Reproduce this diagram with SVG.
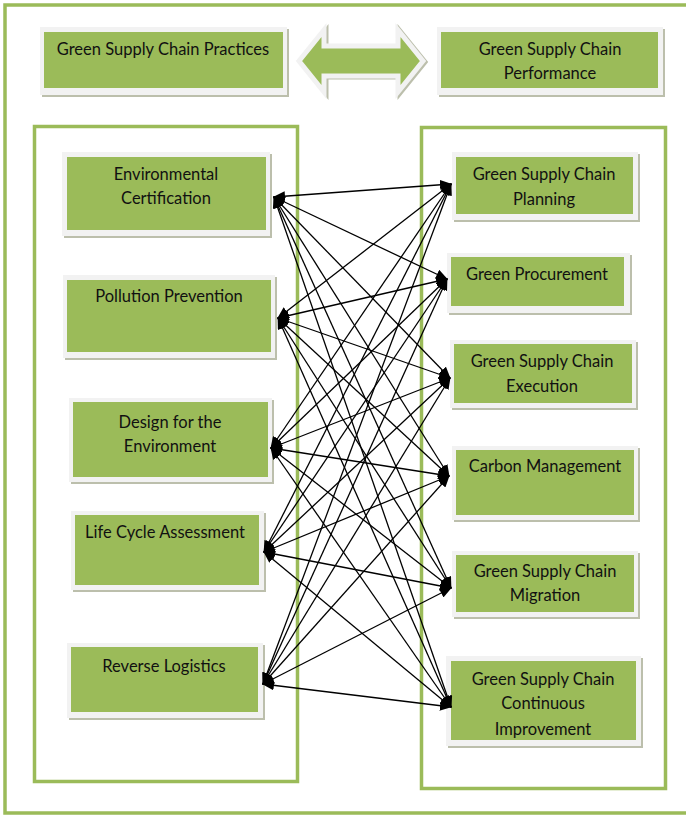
<svg xmlns="http://www.w3.org/2000/svg" width="686" height="815" viewBox="0 0 686 815">
<style>
.frame{fill:none;stroke:#9bbb59;stroke-width:3.5}
.sh{fill:#bcbfac}
.rim{fill:#f2f2f2}
.g{fill:#9bbb59}
.t{font-family:Lato,"Liberation Sans",sans-serif;font-size:16.5px;fill:#111;text-anchor:middle}
.c line{stroke:#000;stroke-width:1.3;marker-start:url(#ah);marker-end:url(#ah)}
</style>
<defs>
<marker id="ah" markerUnits="userSpaceOnUse" markerWidth="12" markerHeight="10" refX="11" refY="5" orient="auto-start-reverse">
<path d="M0,0 L12,5 L0,10 Z" fill="#000"/>
</marker>
</defs>
<rect width="686" height="815" fill="#fff"/>
<rect class="frame" x="5" y="5" width="690" height="808"/>
<rect class="frame" x="34.5" y="126.5" width="263" height="655"/>
<rect class="frame" x="421.5" y="127.5" width="244" height="661"/>

<g id="top-practices">
<rect class="sh" x="42" y="29" width="247" height="68"/>
<rect class="rim" x="40" y="27" width="247" height="68"/>
<rect class="g" x="44" y="32" width="239" height="56"/>
<text class="t" x="163" y="55">Green Supply Chain Practices</text>
</g>
<g id="top-arrow">
<path d="M301,62 L326,31 L326,47 L400,47 L400,31 L425,62 L400,93 L400,77 L326,77 L326,93 Z" fill="#bcbfac" stroke="#bcbfac" stroke-width="5" stroke-linejoin="miter"/>
<path d="M299,61 L324,30 L324,46 L398,46 L398,30 L423,61 L398,92 L398,76 L324,76 L324,92 Z" class="g" stroke="#f2f2f2" stroke-width="5" stroke-linejoin="miter"/>
</g>
<g id="top-performance">
<rect class="sh" x="439" y="29" width="226" height="68"/>
<rect class="rim" x="437" y="27" width="226" height="68"/>
<rect class="g" x="441" y="32" width="217" height="56"/>
<text class="t" x="550" y="55">Green Supply Chain</text>
<text class="t" x="550" y="79">Performance</text>
</g>

<g id="env-cert">
<rect class="sh" x="64" y="154" width="208" height="84"/>
<rect class="rim" x="62" y="152" width="208" height="84"/>
<rect class="g" x="67" y="157" width="199" height="73"/>
<text class="t" x="166" y="180">Environmental</text>
<text class="t" x="166" y="204">Certification</text>
</g>
<g id="pollution">
<rect class="sh" x="65" y="277" width="212" height="83"/>
<rect class="rim" x="63" y="275" width="212" height="83"/>
<rect class="g" x="67" y="280" width="204" height="72"/>
<text class="t" x="169" y="302">Pollution Prevention</text>
</g>
<g id="design">
<rect class="sh" x="71" y="400" width="203" height="84"/>
<rect class="rim" x="69" y="398" width="203" height="84"/>
<rect class="g" x="73" y="402" width="195" height="75"/>
<text class="t" x="170" y="428">Design for the</text>
<text class="t" x="170" y="452">Environment</text>
</g>
<g id="lca">
<rect class="sh" x="73" y="513" width="193" height="79"/>
<rect class="rim" x="71" y="511" width="193" height="79"/>
<rect class="g" x="75" y="515" width="184" height="70"/>
<text class="t" x="165" y="538">Life Cycle Assessment</text>
</g>
<g id="reverse">
<rect class="sh" x="69" y="645" width="196" height="75"/>
<rect class="rim" x="67" y="643" width="196" height="75"/>
<rect class="g" x="71" y="647" width="187" height="65"/>
<text class="t" x="164" y="672">Reverse Logistics</text>
</g>

<g id="planning">
<rect class="sh" x="454" y="154" width="186" height="68"/>
<rect class="rim" x="452" y="152" width="186" height="68"/>
<rect class="g" x="456" y="157" width="177" height="57"/>
<text class="t" x="544" y="180">Green Supply Chain</text>
<text class="t" x="544" y="205">Planning</text>
</g>
<g id="procurement">
<rect class="sh" x="449" y="255" width="183" height="60"/>
<rect class="rim" x="447" y="253" width="183" height="60"/>
<rect class="g" x="451" y="257" width="173" height="49"/>
<text class="t" x="537" y="280">Green Procurement</text>
</g>
<g id="execution">
<rect class="sh" x="452" y="342" width="186" height="68"/>
<rect class="rim" x="450" y="340" width="186" height="68"/>
<rect class="g" x="454" y="344" width="178" height="59"/>
<text class="t" x="542" y="367">Green Supply Chain</text>
<text class="t" x="542" y="392">Execution</text>
</g>
<g id="carbon">
<rect class="sh" x="454" y="448" width="186" height="74"/>
<rect class="rim" x="452" y="446" width="186" height="74"/>
<rect class="g" x="456" y="450" width="178" height="65"/>
<text class="t" x="545" y="472">Carbon Management</text>
</g>
<g id="migration">
<rect class="sh" x="454" y="553" width="186" height="66"/>
<rect class="rim" x="452" y="551" width="186" height="66"/>
<rect class="g" x="456" y="555" width="178" height="57"/>
<text class="t" x="545" y="577">Green Supply Chain</text>
<text class="t" x="545" y="601">Migration</text>
</g>
<g id="continuous">
<rect class="sh" x="448" y="658" width="195" height="90"/>
<rect class="rim" x="446" y="656" width="195" height="90"/>
<rect class="g" x="451" y="661" width="185" height="79"/>
<text class="t" x="543" y="685">Green Supply Chain</text>
<text class="t" x="543" y="709">Continuous</text>
<text class="t" x="543" y="735">Improvement</text>
</g>

<g id="connectors" class="c">
<line x1="274" y1="197" x2="451" y2="184"/>
<line x1="274" y1="197" x2="447" y2="279"/>
<line x1="274" y1="197" x2="450" y2="378"/>
<line x1="274" y1="197" x2="449" y2="476"/>
<line x1="274" y1="197" x2="451" y2="588"/>
<line x1="274" y1="197" x2="451" y2="707"/>
<line x1="278" y1="318" x2="451" y2="184"/>
<line x1="278" y1="318" x2="447" y2="279"/>
<line x1="278" y1="318" x2="450" y2="378"/>
<line x1="278" y1="318" x2="449" y2="476"/>
<line x1="278" y1="318" x2="451" y2="588"/>
<line x1="278" y1="318" x2="451" y2="707"/>
<line x1="271" y1="448" x2="451" y2="184"/>
<line x1="271" y1="448" x2="447" y2="279"/>
<line x1="271" y1="448" x2="450" y2="378"/>
<line x1="271" y1="448" x2="449" y2="476"/>
<line x1="271" y1="448" x2="451" y2="588"/>
<line x1="271" y1="448" x2="451" y2="707"/>
<line x1="264" y1="552" x2="451" y2="184"/>
<line x1="264" y1="552" x2="447" y2="279"/>
<line x1="264" y1="552" x2="450" y2="378"/>
<line x1="264" y1="552" x2="449" y2="476"/>
<line x1="264" y1="552" x2="451" y2="588"/>
<line x1="264" y1="552" x2="451" y2="707"/>
<line x1="263" y1="684" x2="451" y2="184"/>
<line x1="263" y1="684" x2="447" y2="279"/>
<line x1="263" y1="684" x2="450" y2="378"/>
<line x1="263" y1="684" x2="449" y2="476"/>
<line x1="263" y1="684" x2="451" y2="588"/>
<line x1="263" y1="684" x2="451" y2="707"/>
</g>
</svg>
